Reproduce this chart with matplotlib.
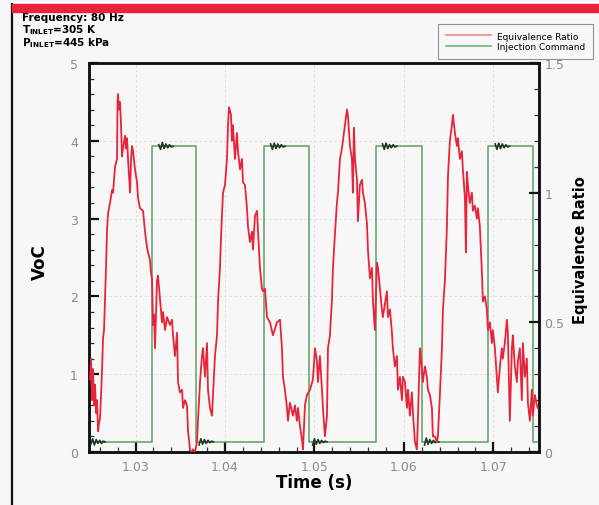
import numpy as np
import matplotlib
matplotlib.use("Agg")
import matplotlib.pyplot as plt
from matplotlib.lines import Line2D
from matplotlib.patches import Rectangle
from matplotlib.ticker import MultipleLocator

# ---------------- data ----------------
# equivalence ratio trace (time in ms, value)
phi_t_ms = [
    1024.92, 1025.03, 1025.14, 1025.25, 1025.36, 1025.47, 1025.59, 1025.70, 1025.81, 1025.92,
    1026.03, 1026.15, 1026.26, 1026.37, 1026.48, 1026.59, 1026.70, 1026.82, 1026.93, 1027.15,
    1027.37, 1027.49, 1027.71, 1027.93, 1027.99, 1028.04, 1028.16, 1028.27, 1028.38, 1028.49,
    1028.60, 1028.83, 1028.94, 1029.05, 1029.16, 1029.27, 1029.39, 1029.50, 1029.61, 1029.72,
    1029.94, 1030.17, 1030.28, 1030.50, 1030.84, 1031.06, 1031.28, 1031.40, 1031.62, 1031.73,
    1031.84, 1031.96, 1032.07, 1032.18, 1032.40, 1032.51, 1032.74, 1032.96, 1033.07, 1033.30,
    1033.52, 1033.85, 1034.08, 1034.19, 1034.41, 1034.64, 1034.75, 1034.97, 1035.20, 1035.31,
    1035.53, 1035.75, 1035.87, 1036.09, 1036.20, 1036.31, 1036.42, 1036.65, 1036.87, 1036.98,
    1037.21, 1037.43, 1037.54, 1037.77, 1037.99, 1038.10, 1038.32, 1038.55, 1038.66, 1038.88,
    1039.11, 1039.22, 1039.44, 1039.55, 1039.67, 1039.78, 1040.00, 1040.22, 1040.34, 1040.45,
    1040.67, 1040.78, 1040.89, 1041.12, 1041.34, 1041.45, 1041.68, 1041.90, 1042.01, 1042.23,
    1042.46, 1042.57, 1042.79, 1043.02, 1043.13, 1043.35, 1043.58, 1043.69, 1043.91, 1044.13,
    1044.25, 1044.47, 1044.69, 1045.03, 1045.36, 1045.81, 1046.15, 1046.37, 1046.48, 1046.70,
    1046.93, 1047.04, 1047.26, 1047.60, 1047.82, 1048.04, 1048.16, 1048.38, 1048.60, 1048.72,
    1048.94, 1049.16, 1049.50, 1049.83, 1050.06, 1050.28, 1050.39, 1050.61, 1050.84, 1050.95,
    1051.17, 1051.40, 1051.51, 1051.73, 1051.96, 1052.07, 1052.29, 1052.51, 1052.63, 1052.85,
    1053.07, 1053.18, 1053.41, 1053.63, 1053.74, 1053.97, 1054.19, 1054.30, 1054.41, 1054.53,
    1054.75, 1054.86, 1055.08, 1055.31, 1055.42, 1055.64, 1055.87, 1055.98, 1056.20, 1056.43,
    1056.54, 1056.76, 1056.98, 1057.10, 1057.32, 1057.54, 1057.65, 1058.10, 1058.21, 1058.44,
    1058.66, 1058.77, 1058.99, 1059.22, 1059.33, 1059.55, 1059.78, 1059.89, 1060.11, 1060.34,
    1060.45, 1060.67, 1060.89, 1061.01, 1061.23, 1061.45, 1061.56, 1061.79, 1062.01, 1062.12,
    1062.35, 1062.57, 1062.68, 1062.91, 1063.13, 1063.24, 1063.46, 1063.69, 1063.80, 1064.02,
    1064.25, 1064.36, 1064.58, 1064.80, 1064.92, 1065.14, 1065.36, 1065.48, 1065.70, 1065.92,
    1066.03, 1066.26, 1066.48, 1066.59, 1066.82, 1066.93, 1067.04, 1067.15, 1067.37, 1067.60,
    1067.71, 1067.93, 1068.16, 1068.27, 1068.49, 1068.72, 1068.83, 1069.05, 1069.27, 1069.39,
    1069.61, 1069.83, 1069.94, 1070.17, 1070.39, 1070.50, 1070.73, 1070.95, 1071.06, 1071.28,
    1071.51, 1071.62, 1071.84, 1072.07, 1072.18, 1072.40, 1072.63, 1072.74, 1072.96, 1073.18,
    1073.30, 1073.52, 1073.74, 1073.86, 1074.08, 1074.30, 1074.41, 1074.64, 1074.86, 1074.97,
]
phi_values = [
    0.28, 0.36, 0.20, 0.32, 0.18, 0.26, 0.15, 0.20, 0.08, 0.11,
    0.13, 0.22, 0.32, 0.44, 0.47, 0.59, 0.71, 0.86, 0.92, 0.96,
    1.01, 1.00, 1.10, 1.13, 1.35, 1.38, 1.32, 1.35, 1.26, 1.14,
    1.17, 1.22, 1.17, 1.21, 1.13, 1.07, 1.00, 1.13, 1.18, 1.16,
    1.09, 1.04, 0.98, 0.94, 0.93, 0.85, 0.79, 0.77, 0.74, 0.69,
    0.67, 0.49, 0.53, 0.40, 0.66, 0.68, 0.59, 0.50, 0.54, 0.47,
    0.52, 0.49, 0.51, 0.45, 0.37, 0.46, 0.27, 0.23, 0.24, 0.17,
    0.20, 0.18, 0.08, 0.01, 0.00, 0.00, 0.01, 0.00, 0.04, 0.12,
    0.27, 0.37, 0.40, 0.29, 0.42, 0.24, 0.17, 0.14, 0.22, 0.37,
    0.45, 0.58, 0.71, 0.82, 0.92, 1.00, 1.03, 1.13, 1.26, 1.33,
    1.30, 1.20, 1.26, 1.13, 1.23, 1.16, 1.09, 1.13, 1.04, 1.03,
    0.94, 0.87, 0.81, 0.85, 0.78, 0.91, 0.93, 0.85, 0.71, 0.63,
    0.62, 0.63, 0.52, 0.50, 0.45, 0.50, 0.51, 0.40, 0.29, 0.24,
    0.17, 0.12, 0.19, 0.14, 0.18, 0.12, 0.17, 0.10, 0.05, 0.01,
    0.18, 0.22, 0.24, 0.28, 0.40, 0.35, 0.27, 0.37, 0.24, 0.17,
    0.06, 0.14, 0.40, 0.45, 0.59, 0.71, 0.84, 0.96, 1.00, 1.13,
    1.17, 1.20, 1.26, 1.32, 1.30, 1.18, 1.13, 1.00, 1.25, 1.13,
    1.05, 0.89, 1.03, 1.05, 1.00, 0.96, 0.88, 0.78, 0.67, 0.71,
    0.58, 0.47, 0.73, 0.71, 0.63, 0.55, 0.52, 0.62, 0.52, 0.55,
    0.46, 0.40, 0.33, 0.37, 0.24, 0.29, 0.20, 0.29, 0.27, 0.17,
    0.24, 0.14, 0.23, 0.15, 0.04, 0.01, 0.12, 0.40, 0.32, 0.27,
    0.33, 0.29, 0.24, 0.22, 0.17, 0.06, 0.06, 0.04, 0.06, 0.22,
    0.40, 0.55, 0.66, 0.86, 1.06, 1.20, 1.26, 1.30, 1.23, 1.18,
    1.21, 1.13, 1.16, 1.09, 0.98, 0.77, 1.08, 1.03, 0.96, 1.00,
    0.93, 0.95, 0.90, 0.94, 0.87, 0.69, 0.58, 0.60, 0.55, 0.47,
    0.50, 0.42, 0.47, 0.40, 0.29, 0.23, 0.33, 0.40, 0.36, 0.42,
    0.51, 0.46, 0.12, 0.40, 0.45, 0.33, 0.27, 0.35, 0.40, 0.20,
    0.42, 0.29, 0.36, 0.19, 0.12, 0.24, 0.14, 0.22, 0.18, 0.17,
]

# injection command (square wave) : transition times in ms and levels in V
cmd_rise_ms = [1031.81, 1044.39, 1056.87, 1069.42]
cmd_fall_ms = [1036.76, 1049.42, 1061.98, 1074.38]
cmd_low_v = 0.13
cmd_high_v = 3.93

# short ringing right after the command transitions (ms, V)
ring_t_ms = [
    [1025.0, 1025.2, 1025.4, 1025.6, 1025.8, 1026.0, 1026.2, 1026.4, 1026.6],
    [1032.6, 1032.8, 1033.0, 1033.2, 1033.4, 1033.6, 1033.8, 1034.0, 1034.2],
    [1037.1, 1037.3, 1037.5, 1037.7, 1037.9, 1038.1, 1038.3, 1038.5, 1038.7],
    [1045.1, 1045.3, 1045.5, 1045.7, 1045.9, 1046.1, 1046.3, 1046.5, 1046.7],
    [1049.8, 1050.0, 1050.2, 1050.4, 1050.6, 1050.8, 1051.0, 1051.2, 1051.4],
    [1057.6, 1057.8, 1058.0, 1058.2, 1058.4, 1058.6, 1058.8, 1059.0, 1059.2],
    [1062.3, 1062.5, 1062.7, 1062.9, 1063.1, 1063.3, 1063.5, 1063.7, 1063.9],
    [1070.2, 1070.4, 1070.6, 1070.8, 1071.0, 1071.2, 1071.4, 1071.6, 1071.8],
]
ring_v = [
    [0.10, 0.17, 0.09, 0.16, 0.11, 0.15, 0.11, 0.14, 0.13],
    [3.95, 3.89, 3.98, 3.90, 3.96, 3.91, 3.95, 3.92, 3.93],
    [0.09, 0.17, 0.10, 0.16, 0.11, 0.15, 0.12, 0.14, 0.13],
    [3.96, 3.89, 3.97, 3.90, 3.96, 3.91, 3.95, 3.92, 3.93],
    [0.09, 0.17, 0.10, 0.16, 0.11, 0.15, 0.12, 0.14, 0.13],
    [3.96, 3.89, 3.97, 3.90, 3.95, 3.91, 3.95, 3.92, 3.93],
    [0.09, 0.18, 0.10, 0.16, 0.11, 0.15, 0.12, 0.14, 0.13],
    [3.96, 3.89, 3.97, 3.90, 3.96, 3.91, 3.95, 3.92, 3.93],
]

x_ticks = [1.03, 1.04, 1.05, 1.06, 1.07]
x_tick_labels = ["1.03", "1.04", "1.05", "1.06", "1.07"]
left_ticks = [0, 1, 2, 3, 4, 5]
right_ticks = [0, 0.5, 1, 1.5]
right_tick_labels = ["0", "0.5", "1", "1.5"]
x_range = (1.0248, 1.0751)

# ---------------- build series ----------------
phi_t = np.array(phi_t_ms) / 1000.0
phi_v = np.array(phi_values)

cmd_t = [x_range[0]]
cmd_v = [cmd_low_v]
for r, f in zip(cmd_rise_ms, cmd_fall_ms):
    cmd_t += [r / 1000.0, r / 1000.0, f / 1000.0, f / 1000.0]
    cmd_v += [cmd_low_v, cmd_high_v, cmd_high_v, cmd_low_v]
cmd_t.append(x_range[1])
cmd_v.append(cmd_low_v)

# ---------------- figure ----------------
BG = "#f7f7f7"
fig = plt.figure(figsize=(5.99, 5.06), dpi=100, facecolor=BG)
ax = fig.add_axes([89 / 599, 1 - 453 / 506, 450 / 599, 389 / 506])
ax.set_facecolor(BG)
ax2 = ax.twinx()

ax.grid(True, color="#dcdcdc", linestyle=(0, (3, 3)), linewidth=0.6)
ax.set_axisbelow(True)

ax.plot(cmd_t, cmd_v, color="#5f9f5f", lw=1.1, zorder=3)
for rt, rv in zip(ring_t_ms, ring_v):
    ax.plot(np.array(rt) / 1000.0, rv, color="#1e3a1e", lw=1.2, zorder=4)

ax2.plot(phi_t, phi_v, color="#e8243a", lw=1.3, zorder=5)

ax.set_xlim(*x_range)
ax.set_ylim(0, 5)
ax2.set_ylim(0, 1.5)

ax.set_xticks(x_ticks)
ax.set_xticklabels(x_tick_labels)
ax.set_yticks(left_ticks)
ax2.set_yticks(right_ticks)
ax2.set_yticklabels(right_tick_labels)
ax.xaxis.set_minor_locator(MultipleLocator(0.002))
ax.yaxis.set_minor_locator(MultipleLocator(0.2))
ax2.yaxis.set_minor_locator(MultipleLocator(0.1))

for a in (ax, ax2):
    a.tick_params(which="major", direction="in", length=7, width=1.6, colors="#111111",
                  labelcolor="#8a8a8a", labelsize=9)
    a.tick_params(which="minor", direction="in", length=3.5, width=0.9, colors="#333333")
    for s in a.spines.values():
        s.set_linewidth(1.8)
        s.set_color("#111111")
ax.tick_params(axis="x", pad=6)
ax.tick_params(axis="y", pad=8)
ax2.tick_params(axis="y", pad=4)

ax.set_xlabel("Time (s)", fontsize=12, fontweight="bold", labelpad=0)
fig.text(40 / 599, 1 - 262 / 506, "VoC", rotation=90, fontsize=12, fontweight="bold",
         ha="center", va="center")
fig.text(580 / 599, 1 - 250 / 506, "Equivalence Ratio", rotation=90, fontsize=10.5,
         fontweight="bold", ha="center", va="center")

# condition annotation
fig.text(22 / 599, 1 - 18 / 506, "Frequency: 80 Hz", fontsize=7.5, fontweight="bold",
         ha="left", va="center")
fig.text(22 / 599, 1 - 30 / 506, r"T$_{\mathbf{INLET}}$=305 K", fontsize=7.5,
         fontweight="bold", ha="left", va="center")
fig.text(22 / 599, 1 - 43 / 506, r"P$_{\mathbf{INLET}}$=445 kPa", fontsize=7.5,
         fontweight="bold", ha="left", va="center")

# legend
handles = [Line2D([], [], color="#f08a8a", lw=1.2), Line2D([], [], color="#7fb07f", lw=1.2)]
leg = fig.legend(handles, ["Equivalence Ratio", "Injection Command"],
                 loc="upper left", bbox_to_anchor=(433 / 599, 1 - 20 / 506),
                 fontsize=6.5, frameon=True, fancybox=False, handlelength=5,
                 borderpad=0.9, labelspacing=0.15, handletextpad=0.7)
leg.get_frame().set_edgecolor("#777777")
leg.get_frame().set_facecolor(BG)
leg.get_frame().set_linewidth(0.8)

# page decorations: red band at top and left frame line
fig.add_artist(Rectangle((12 / 599, 1 - 13 / 506), 1 - 12 / 599, 8 / 506,
                         transform=fig.transFigure, color="#e8243a", zorder=10))
fig.add_artist(Line2D([11.5 / 599, 11.5 / 599], [0, 1 - 5 / 506], transform=fig.transFigure,
                      color="#111111", lw=1.6))

fig.savefig("out.png", dpi=100, facecolor=BG)
